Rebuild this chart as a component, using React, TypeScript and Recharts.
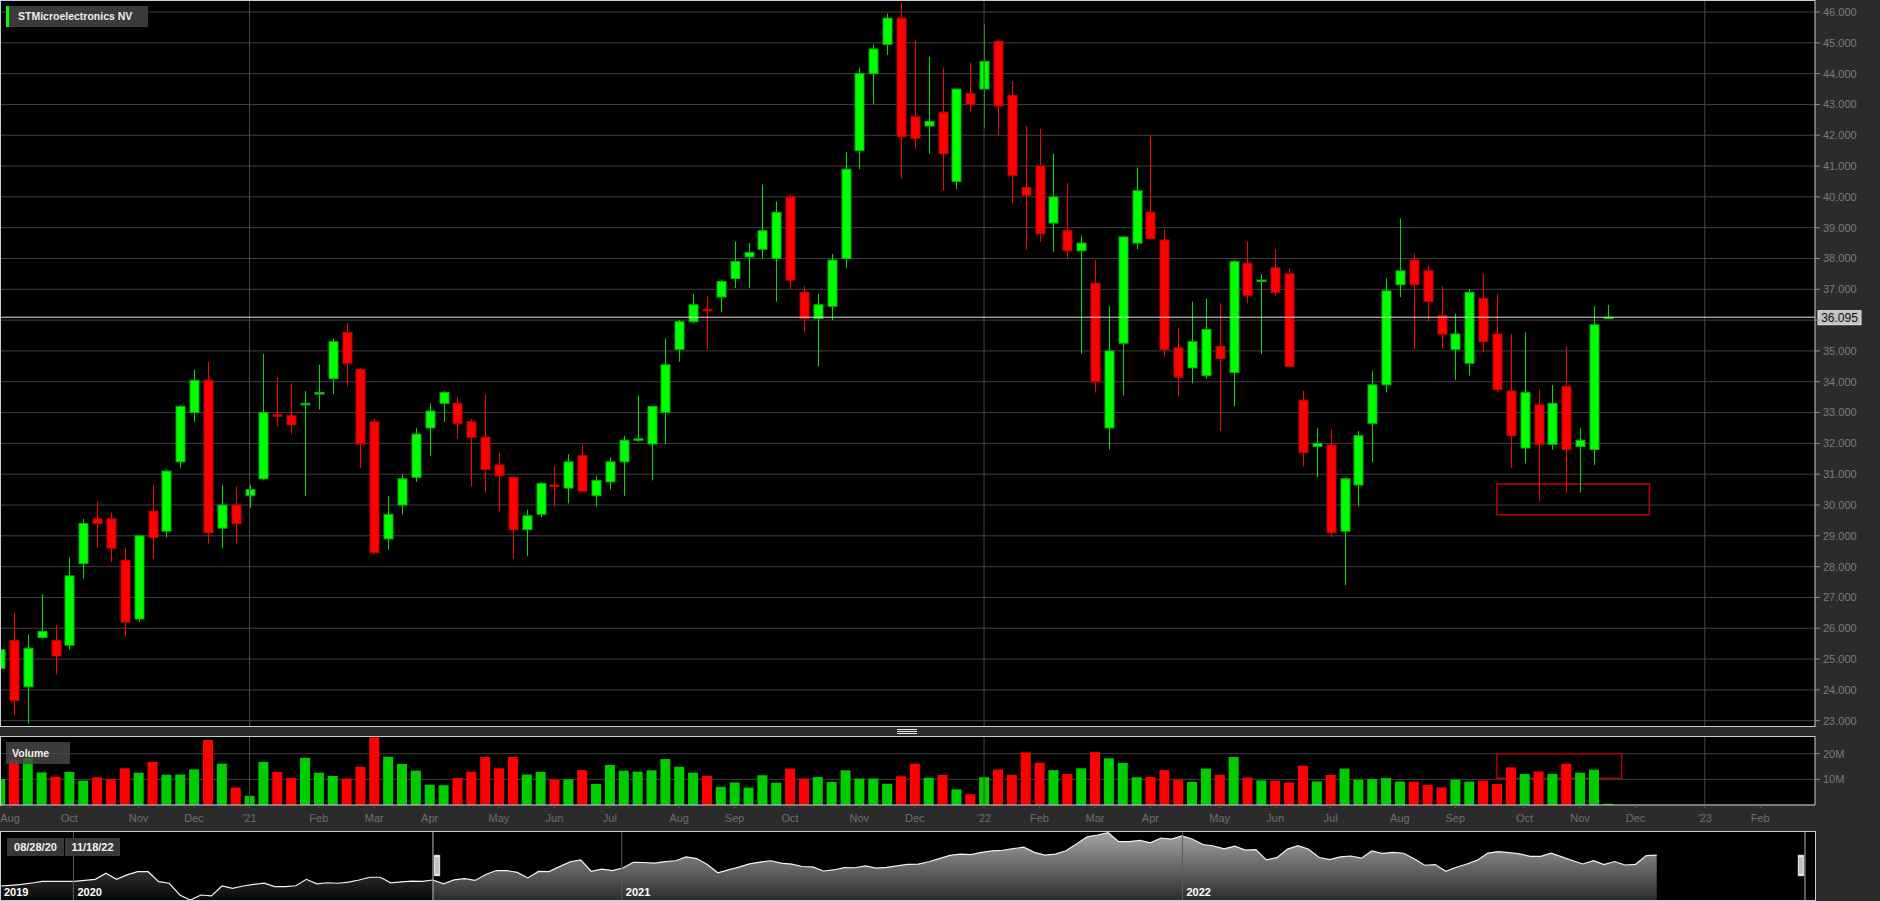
import React from 'react';
import {
  ComposedChart,
  AreaChart,
  Area,
  Bar,
  Cell,
  XAxis,
  YAxis,
  CartesianGrid,
  ReferenceLine,
  ReferenceArea,
} from 'recharts';

const FONT = '"Liberation Sans", Arial, Helvetica, sans-serif';

// Weekly candles of STMicroelectronics NV, week 0 = 08/28/20 ... week 116 = 11/18/22
const opens = [
  24.7, 25.6, 24.1, 25.7, 25.6, 25.45, 28.1, 29.55, 29.55, 28.2,
  26.3, 29.8, 29.15, 31.4, 33.0, 34.05, 29.25, 30.0, 30.3, 30.85,
  32.93, 32.9, 33.25, 33.6, 34.1, 35.6, 34.4, 32.7, 28.9, 30.0,
  30.9, 32.5, 33.3, 33.3, 32.7, 32.2, 31.3, 30.9, 29.2, 29.7,
  30.65, 30.55, 31.6, 30.3, 30.75, 31.4, 32.1, 31.98, 33.0, 35.05,
  35.95, 36.35, 36.75, 37.35, 38.05, 38.3, 38.0, 40.0, 36.9, 36.05,
  36.45, 38.0, 41.5, 44.0, 44.95, 45.8, 42.6, 42.3, 42.75, 40.5,
  43.35, 43.5, 45.05, 43.3, 40.3, 41.0, 39.15, 38.9, 38.25, 37.2,
  32.5, 35.25, 38.5, 39.5, 38.6, 35.1, 34.45, 34.2, 35.15, 34.3,
  37.85, 37.25, 37.7, 37.5, 33.4, 31.9, 31.95, 29.15, 30.65, 32.65,
  33.9, 37.15, 37.95, 37.6, 36.15, 35.05, 34.6, 36.7, 35.55, 33.7,
  31.85, 33.25, 31.97, 33.85, 31.9, 31.8, 36.05,
];
const highs = [
  26.6, 26.5, 25.8, 27.1, 26.1, 28.3, 29.55, 30.1, 29.75, 28.6,
  29.0, 30.65, 31.15, 33.25, 34.4, 34.65, 30.65, 30.6, 30.65, 34.9,
  34.15, 33.95, 33.7, 34.55, 35.4, 35.9, 34.45, 32.8, 30.3, 31.0,
  32.5, 33.3, 33.7, 33.5, 32.8, 33.6, 31.7, 30.95, 29.85, 30.75,
  31.25, 31.65, 31.95, 30.95, 31.55, 32.25, 33.55, 33.2, 35.4, 36.0,
  36.85, 36.8, 37.3, 38.55, 38.5, 40.4, 39.85, 40.1, 37.1, 36.85,
  38.15, 41.45, 44.2, 44.95, 45.95, 46.3, 45.1, 44.55, 44.2, 43.5,
  44.35, 45.6, 45.1, 43.75, 42.3, 42.2, 41.4, 40.45, 38.75, 37.95,
  36.45, 38.7, 40.95, 42.0, 38.95, 35.75, 36.6, 36.7, 36.55, 37.95,
  38.55, 37.5, 38.3, 37.7, 33.7, 32.5, 32.45, 30.9, 32.4, 34.35,
  37.35, 39.3, 38.15, 37.8, 37.1, 36.2, 37.0, 37.5, 36.85, 35.55,
  35.6, 33.75, 33.9, 35.15, 32.5, 36.45, 36.5,
];
const lows = [
  24.5, 23.2, 22.9, 25.65, 24.5, 25.3, 27.6, 28.6, 28.15, 25.75,
  26.2, 28.25, 28.95, 31.2, 32.7, 28.75, 28.6, 28.75, 29.9, 30.8,
  32.55, 32.3, 30.3, 33.1, 33.6, 33.85, 31.2, 28.4, 28.55, 29.7,
  30.75, 31.6, 32.7, 32.15, 30.6, 30.4, 29.8, 28.25, 28.35, 29.6,
  29.95, 30.05, 30.4, 29.95, 30.5, 30.3, 32.05, 30.8, 31.98, 34.65,
  35.9, 35.05, 36.25, 37.05, 37.05, 38.0, 36.6, 37.0, 35.6, 34.5,
  36.0, 37.7, 40.9, 43.0, 44.6, 40.6, 41.55, 41.4, 40.2, 40.25,
  42.75, 42.25, 42.0, 39.8, 38.3, 38.55, 38.2, 38.0, 34.9, 33.65,
  31.8, 33.55, 38.3, 38.6, 34.8, 33.55, 33.95, 34.1, 32.4, 33.2,
  36.55, 34.9, 36.8, 34.5, 31.25, 30.9, 28.95, 27.4, 29.95, 31.4,
  33.65, 36.75, 35.05, 35.95, 35.1, 34.05, 34.2, 34.95, 33.65, 31.2,
  31.35, 30.1, 31.8, 30.4, 30.4, 31.3, 36.05,
];
const closes = [
  25.3, 23.65, 25.35, 25.9, 25.1, 27.7, 29.4, 29.4, 28.6, 26.2,
  29.0, 28.95, 31.1, 33.2, 34.05, 29.1, 30.0, 29.4, 30.5, 33.0,
  32.88, 32.6, 33.3, 33.65, 35.3, 34.6, 31.98, 28.45, 29.7, 30.85,
  32.3, 33.05, 33.65, 32.65, 32.2, 31.15, 30.95, 29.2, 29.65, 30.7,
  30.6, 31.4, 30.45, 30.8, 31.4, 32.1, 32.15, 33.2, 34.55, 35.95,
  36.5, 36.3, 37.25, 37.9, 38.2, 38.9, 39.5, 37.3, 36.05, 36.5,
  37.95, 40.9, 44.0, 44.8, 45.8, 41.95, 41.9, 42.45, 41.4, 43.5,
  43.0, 44.4, 42.95, 40.7, 40.05, 38.8, 40.0, 38.25, 38.5, 34.0,
  35.0, 38.7, 40.2, 38.65, 35.05, 34.15, 35.3, 35.7, 34.75, 37.9,
  36.8, 37.3, 36.9, 34.5, 31.7, 32.0, 29.1, 30.85, 32.25, 33.9,
  36.95, 37.6, 37.15, 36.6, 35.55, 35.55, 36.9, 35.3, 33.75, 32.25,
  33.65, 31.97, 33.3, 31.8, 32.1, 35.85, 36.095,
];
// weekly volume, millions of shares
const volumesM = [
  10.1, 17.7, 18.3, 12.7, 11.0, 12.9, 9.5, 10.8, 10.1, 14.3,
  12.6, 16.8, 11.8, 11.9, 13.9, 25.3, 16.1, 6.8, 3.6, 16.8,
  12.9, 10.5, 18.4, 12.6, 11.3, 10.3, 14.9, 26.4, 18.8, 16.0,
  13.4, 7.9, 7.7, 10.5, 13.0, 18.7, 14.3, 18.7, 11.9, 12.9,
  9.9, 10.0, 13.6, 8.2, 15.6, 13.4, 13.0, 13.5, 17.9, 14.9,
  12.6, 11.3, 7.1, 8.8, 6.8, 11.6, 8.7, 14.2, 10.3, 10.9,
  9.0, 13.5, 10.3, 10.3, 8.3, 11.2, 16.1, 10.6, 11.7, 6.1,
  4.2, 10.8, 13.8, 11.8, 20.5, 16.5, 13.6, 12.1, 14.3, 20.6,
  18.2, 16.4, 10.8, 10.9, 13.6, 9.9, 9.0, 14.2, 11.8, 18.7,
  10.7, 9.6, 9.5, 8.8, 15.3, 9.2, 11.7, 14.2, 9.9, 10.1,
  10.5, 9.1, 9.1, 7.8, 6.9, 9.9, 9.1, 9.5, 8.2, 14.7,
  12.1, 13.1, 12.1, 16.1, 12.6, 13.8, 0.5,
];
const currentPrice = 36.095;
const currentPriceLabel = '36.095';

const priceTicks = [23, 24, 25, 26, 27, 28, 29, 30, 31, 32, 33, 34, 35, 36, 37, 38, 39, 40, 41, 42, 43, 44, 45, 46];
const volumeTicks = [10000000, 20000000];
const volumeTickLabels = ['10M', '20M'];

const monthTickWeeks = [0.72, 5, 10, 14, 18, 23, 27, 31, 36, 40, 44, 49, 53, 57, 62, 66, 71, 75, 79, 83, 88, 92, 96, 101, 105, 110, 114, 118, 123, 127];
const monthTickLabels = ['Aug', 'Oct', 'Nov', 'Dec', "'21", 'Feb', 'Mar', 'Apr', 'May', 'Jun', 'Jul', 'Aug', 'Sep', 'Oct', 'Nov', 'Dec', "'22", 'Feb', 'Mar', 'Apr', 'May', 'Jun', 'Jul', 'Aug', 'Sep', 'Oct', 'Nov', 'Dec', "'23", 'Feb'];
const yearLineWeeks = [18, 71, 123];

// navigator: weekly closes before the visible range (weeks -41 .. -1)
const navPreCloses = [
  22.7, 23.0, 23.4, 24.0, 24.7, 24.7, 24.7, 24.7, 25.1, 25.6,
  28.2, 25.6, 27.5, 28.9, 28.9, 24.6, 23.9, 18.8, 16.6, 18.8,
  18.4, 22.7, 21.7, 22.7, 23.4, 23.9, 22.4, 22.4, 22.8, 25.6,
  23.6, 24.1, 23.9, 24.4, 25.3, 26.5, 26.5, 24.1, 24.5, 24.8,
  24.7,
];
const navYearWeeks = [-41.04, -34.08, 17.9, 71.04];
const navYearLabels = ['2019', '2020', '2021', '2022'];
const rangeStartLabel = '08/28/20';
const rangeEndLabel = '11/18/22';

// highlighted zones (week / price / volume space)
const priceZone = { x1: 108, x2: 119, y1: 29.68, y2: 30.68 };
const volumeZone = { x1: 108, x2: 117, y1: 10450000, y2: 20000000 };

const WEEK_DOMAIN: [number, number] = [0, 130.95];
const PRICE_DOMAIN: [number, number] = [22.7955, 46.3895];
const VOLUME_DOMAIN: [number, number] = [0, 26900000];
const NAV_DOMAIN: [number, number] = [-41.04, 131];
const NAV_Y_DOMAIN: [number, number] = [16.63, 46.54];

const GREEN = '#00ff00';
const RED = '#ff0000';
const BORDER = '#c8ccd8';
const GRID = '#404040';

const CandleShape = (props: any) => {
  const { x, y, width, height, payload } = props;
  if (x == null || y == null || !payload) return null;
  const top = height >= 0 ? y : y + height;
  const h = Math.abs(height);
  const { open, close, high, low } = payload;
  const span = high - low;
  const ppu = span > 0 ? h / span : 0;
  const yOf = (v: number) => top + (high - v) * ppu;
  const up = close >= open;
  const cx = Math.round(x + width / 2) + 0.5;
  const bTop = yOf(Math.max(open, close));
  const bBot = yOf(Math.min(open, close));
  const bh = Math.max(bBot - bTop, 1.5);
  return (
    <g>
      <line x1={cx} x2={cx} y1={top} y2={top + h} stroke={up ? '#00e000' : RED} strokeWidth={1} />
      <rect
        x={cx - 4.5}
        y={bTop}
        width={9}
        height={bh}
        fill={up ? GREEN : RED}
        stroke={up ? '#00b400' : '#c00000'}
        strokeWidth={1}
      />
    </g>
  );
};

const PriceTag = (p: any) => {
  const vb = p.viewBox;
  if (!vb) return null;
  const x = vb.x + vb.width + 3;
  const y = vb.y;
  return (
    <g>
      <rect x={x} y={y - 6.5} width={43} height={14} fill="#c2c2c2" stroke="#e6e6e6" strokeWidth={1} />
      <text x={x + 21.5} y={y + 0.5} dy="0.36em" textAnchor="middle" fontSize={12} fontFamily={FONT} fill="#111">
        {currentPriceLabel}
      </text>
    </g>
  );
};

const NavHandle = (side: 'left' | 'right') => (p: any) => {
  const vb = p.viewBox;
  if (!vb) return null;
  const x = side === 'left' ? vb.x + 1 : vb.x - 7;
  return (
    <g>
      <rect x={x} y={vb.y + 24} width={6} height={21} fill="#f2f2f2" stroke="#9a9a9a" strokeWidth={0.5} />
      <line x1={x + 2} x2={x + 2} y1={vb.y + 26} y2={vb.y + 43} stroke="#777" strokeWidth={0.8} />
      <line x1={x + 4} x2={x + 4} y1={vb.y + 26} y2={vb.y + 43} stroke="#777" strokeWidth={0.8} />
    </g>
  );
};

const NavYearLabel = (text: string) => (p: any) => {
  const vb = p.viewBox;
  if (!vb) return null;
  return (
    <text x={vb.x + 4} y={vb.y + vb.height - 4} fill="#ffffff" fontSize={11} fontWeight="bold" fontFamily={FONT}>
      {text}
    </text>
  );
};

export default function App() {
  const candles = opens.map((o, i) => ({
    k: i,
    open: o,
    high: highs[i],
    low: lows[i],
    close: closes[i],
    range: [lows[i], highs[i]],
    volume: volumesM[i] * 1000000,
  }));
  const navData = [
    ...navPreCloses.map((c, i) => ({ w: i - navPreCloses.length, pre: c, sel: null as number | null })),
    ...closes.map((c, i) => ({ w: i, pre: i === 0 ? c : null, sel: c as number | null })),
  ];

  const monthLabel = (v: number) => {
    const idx = monthTickWeeks.indexOf(v);
    return idx >= 0 ? monthTickLabels[idx] : '';
  };
  const volLabel = (v: number) => {
    const idx = volumeTicks.indexOf(v);
    return idx >= 0 ? volumeTickLabels[idx] : '';
  };

  return (
    <div
      style={{
        position: 'absolute',
        left: 0,
        top: 0,
        width: 1880,
        height: 901,
        background: '#2b2b2b',
        overflow: 'hidden',
        fontFamily: FONT,
      }}
    >
      {/* pane backgrounds */}
      <div style={{ position: 'absolute', left: 0, top: 0, width: 1815, height: 727, background: '#000' }} />
      <div style={{ position: 'absolute', left: 0, top: 736, width: 1815, height: 69, background: '#000' }} />
      <div style={{ position: 'absolute', left: 0, top: 831, width: 1815, height: 70, background: '#000' }} />

      {/* price pane */}
      <div style={{ position: 'absolute', left: 0, top: 0 }}>
        <ComposedChart width={1880} height={727} data={candles} margin={{ top: 0, right: 0, bottom: 0, left: 0 }}>
          <CartesianGrid stroke={GRID} vertical={false} />
          <XAxis type="number" dataKey="k" domain={WEEK_DOMAIN} allowDataOverflow hide />
          <YAxis
            orientation="right"
            width={65}
            domain={PRICE_DOMAIN}
            allowDataOverflow
            ticks={priceTicks}
            interval={0}
            tickFormatter={(v: number) => (Math.abs(v - currentPrice) < 0.3 ? '' : v.toFixed(3))}
            tick={{ fill: '#7b7b7b', fontSize: 11, fontFamily: FONT }}
            tickLine={{ stroke: '#8a8a8a' }}
            tickSize={5}
            tickMargin={3}
            axisLine={{ stroke: BORDER }}
          />
          {yearLineWeeks.map((w) => (
            <ReferenceLine key={w} x={w} stroke="#474747" />
          ))}
          <ReferenceLine y={currentPrice} stroke="#e2e2e2" label={PriceTag} />
          <Bar dataKey="range" barSize={10} isAnimationActive={false} shape={(p: any) => <CandleShape {...p} />} />
          <ReferenceArea
            x1={priceZone.x1}
            x2={priceZone.x2}
            y1={priceZone.y1}
            y2={priceZone.y2}
            fill="none"
            fillOpacity={0}
            stroke="#c00000"
            strokeWidth={1.5}
          />
        </ComposedChart>
      </div>

      {/* volume pane + month axis */}
      <div style={{ position: 'absolute', left: 0, top: 736 }}>
        <ComposedChart width={1880} height={95} data={candles} margin={{ top: 0, right: 0, bottom: 0, left: 0 }}>
          <CartesianGrid stroke={GRID} vertical={false} />
          <XAxis
            type="number"
            dataKey="k"
            domain={WEEK_DOMAIN}
            allowDataOverflow
            ticks={monthTickWeeks}
            interval={0}
            height={26}
            tickFormatter={monthLabel}
            tick={{ fill: '#6e6e6e', fontSize: 11, fontFamily: FONT }}
            tickLine={{ stroke: '#5a5a5a' }}
            tickSize={3}
            tickMargin={6}
            axisLine={{ stroke: BORDER }}
          />
          <YAxis
            orientation="right"
            width={65}
            domain={VOLUME_DOMAIN}
            allowDataOverflow
            ticks={volumeTicks}
            interval={0}
            tickFormatter={volLabel}
            tick={{ fill: '#7b7b7b', fontSize: 11, fontFamily: FONT }}
            tickLine={{ stroke: '#8a8a8a' }}
            tickSize={5}
            tickMargin={3}
            axisLine={{ stroke: BORDER }}
          />
          {yearLineWeeks.map((w) => (
            <ReferenceLine key={w} x={w} stroke="#474747" />
          ))}
          <Bar dataKey="volume" barSize={10} isAnimationActive={false}>
            {candles.map((c, i) => (
              <Cell key={i} fill={c.close >= c.open ? '#00cc00' : RED} />
            ))}
          </Bar>
          <ReferenceArea
            x1={volumeZone.x1}
            x2={volumeZone.x2}
            y1={volumeZone.y1}
            y2={volumeZone.y2}
            fill="none"
            fillOpacity={0}
            stroke="#b00000"
            strokeWidth={1.5}
          />
        </ComposedChart>
      </div>

      {/* navigator */}
      <div style={{ position: 'absolute', left: 0, top: 831 }}>
        <AreaChart width={1880} height={69} data={navData} margin={{ top: 0, right: 65, bottom: 0, left: 0 }}>
          <defs>
            <linearGradient id="navSel" x1="0" y1="0" x2="0" y2="1">
              <stop offset="0" stopColor="#a4a4a4" />
              <stop offset="1" stopColor="#2c2c2c" />
            </linearGradient>
            <linearGradient id="navPre" x1="0" y1="0" x2="0" y2="1">
              <stop offset="0" stopColor="#2e2e2e" />
              <stop offset="1" stopColor="#080808" />
            </linearGradient>
          </defs>
          <XAxis type="number" dataKey="w" domain={NAV_DOMAIN} allowDataOverflow hide />
          <YAxis domain={NAV_Y_DOMAIN} allowDataOverflow hide />
          {navYearWeeks.map((w, i) => (
            <ReferenceLine
              key={w}
              x={w}
              stroke={i === 0 ? 'none' : '#5a5a5a'}
              label={NavYearLabel(navYearLabels[i])}
            />
          ))}
          <Area
            dataKey="pre"
            type="linear"
            stroke="#f2f2f2"
            strokeWidth={1.2}
            fill="url(#navPre)"
            fillOpacity={1}
            isAnimationActive={false}
            dot={false}
            activeDot={false}
          />
          <Area
            dataKey="sel"
            type="linear"
            stroke="#f2f2f2"
            strokeWidth={1.2}
            fill="url(#navSel)"
            fillOpacity={1}
            isAnimationActive={false}
            dot={false}
            activeDot={false}
          />
          <ReferenceLine x={0} stroke="#b8b8b8" label={NavHandle('left')} />
          <ReferenceLine x={130.05} stroke="#b8b8b8" label={NavHandle('right')} />
        </AreaChart>
      </div>

      {/* pane borders */}
      <div style={{ position: 'absolute', left: 0, top: 0, width: 1815, height: 727, borderTop: `1px solid ${BORDER}`, borderLeft: `1px solid ${BORDER}`, borderBottom: `1px solid ${BORDER}`, boxSizing: 'border-box', pointerEvents: 'none' }} />
      <div style={{ position: 'absolute', left: 0, top: 736, width: 1815, height: 70, borderTop: `1px solid ${BORDER}`, borderLeft: `1px solid ${BORDER}`, boxSizing: 'border-box', pointerEvents: 'none' }} />
      <div style={{ position: 'absolute', left: 0, top: 831, width: 1816, height: 70, border: `1px solid ${BORDER}`, boxSizing: 'border-box', pointerEvents: 'none' }} />

      {/* separator grip */}
      <div style={{ position: 'absolute', left: 897, top: 729, width: 20, height: 1, background: '#e8e8e8' }} />
      <div style={{ position: 'absolute', left: 897, top: 731, width: 20, height: 1, background: '#e8e8e8' }} />
      <div style={{ position: 'absolute', left: 897, top: 733, width: 20, height: 1, background: '#e8e8e8' }} />

      {/* title */}
      <div style={{ position: 'absolute', left: 6, top: 6, width: 142, height: 21, background: '#3b3b3b' }}>
        <div style={{ position: 'absolute', left: 0, top: 0, width: 3, height: 21, background: GREEN }} />
        <div style={{ position: 'absolute', left: 12, top: 0, lineHeight: '21px', fontSize: 10.5, fontWeight: 'bold', color: '#ededed', whiteSpace: 'nowrap' }}>
          STMicroelectronics NV
        </div>
      </div>

      {/* volume legend */}
      <div style={{ position: 'absolute', left: 6, top: 742, width: 64, height: 22, background: 'rgba(72,72,72,0.82)' }}>
        <div style={{ position: 'absolute', left: 6, top: 0, lineHeight: '22px', fontSize: 10.5, fontWeight: 'bold', color: '#f0f0f0' }}>Volume</div>
      </div>

      {/* range boxes */}
      <div style={{ position: 'absolute', left: 7, top: 838, width: 57, height: 18, background: '#383838', color: '#f2f2f2', fontSize: 11, fontWeight: 'bold', lineHeight: '18px', textAlign: 'center' }}>
        {rangeStartLabel}
      </div>
      <div style={{ position: 'absolute', left: 65, top: 838, width: 55, height: 18, background: '#383838', color: '#f2f2f2', fontSize: 11, fontWeight: 'bold', lineHeight: '18px', textAlign: 'center' }}>
        {rangeEndLabel}
      </div>
    </div>
  );
}
